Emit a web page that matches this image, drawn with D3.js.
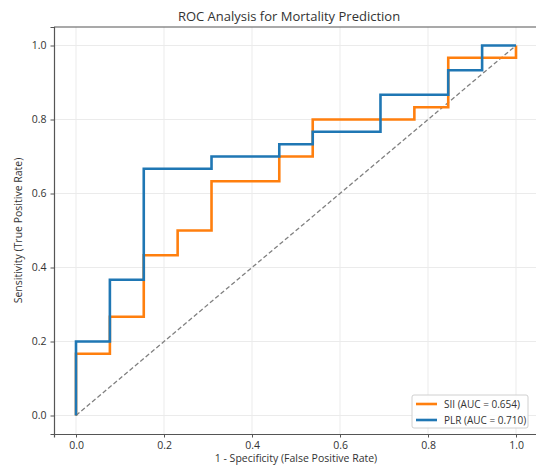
<!DOCTYPE html>
<html>
<head>
<meta charset="utf-8">
<script src="https://cdn.jsdelivr.net/npm/d3@7"></script>
<style>
  body { margin: 0; background: #fff; }
  svg text { font-family: "Open Sans", Roboto, sans-serif; fill: #333; }
</style>
</head>
<body>
<div id="chart"></div>
<script>
// ROC points
const sii_fpr = [0, 0, 0.077, 0.077, 0.154, 0.154, 0.231, 0.231, 0.308, 0.308, 0.462, 0.462, 0.538, 0.538, 0.769, 0.769, 0.846, 0.846, 1.0, 1.0];
const sii_tpr = [0, 0.167, 0.167, 0.267, 0.267, 0.433, 0.433, 0.5, 0.5, 0.633, 0.633, 0.7, 0.7, 0.8, 0.8, 0.833, 0.833, 0.967, 0.967, 1.0];
const plr_fpr = [0, 0, 0.077, 0.077, 0.154, 0.154, 0.308, 0.308, 0.462, 0.462, 0.538, 0.538, 0.692, 0.692, 0.846, 0.846, 0.923, 0.923, 1.0];
const plr_tpr = [0, 0.2, 0.2, 0.367, 0.367, 0.667, 0.667, 0.7, 0.7, 0.733, 0.733, 0.767, 0.767, 0.867, 0.867, 0.933, 0.933, 1.0, 1.0];
const seriesNames = ["SII (AUC = 0.654)", "PLR (AUC = 0.710)"];
const tickVals = [0, 0.2, 0.4, 0.6, 0.8, 1.0];

const W = 536, H = 471;
const margin = { top: 27, right: -2, bottom: 37, left: 54 };
const width = W - margin.left - margin.right;
const height = H - margin.top - margin.bottom;

const svg = d3.select("#chart").append("svg")
    .attr("width", W)
    .attr("height", H);

const g = svg.append("g")
    .attr("transform", `translate(${margin.left},${margin.top})`);

const x = d3.scaleLinear().domain([-0.05, 1.05]).range([0, width]);
const y = d3.scaleLinear().domain([-0.05, 1.05]).range([height, 0]);

// grid
g.append("g").selectAll("line").data(tickVals).join("line")
    .attr("x1", d => x(d)).attr("x2", d => x(d))
    .attr("y1", 0).attr("y2", height)
    .attr("stroke", "#ebebeb").attr("stroke-width", 1);
g.append("g").selectAll("line").data(tickVals).join("line")
    .attr("y1", d => y(d)).attr("y2", d => y(d))
    .attr("x1", 0).attr("x2", width)
    .attr("stroke", "#ebebeb").attr("stroke-width", 1);

// diagonal
g.append("line")
    .attr("x1", x(0)).attr("y1", y(0))
    .attr("x2", x(1)).attr("y2", y(1))
    .attr("stroke", "#808080")
    .attr("stroke-width", 1.3)
    .attr("stroke-dasharray", "4.5,2.5");

const line = d3.line().x(d => x(d[0])).y(d => y(d[1]));
const curves = [
    { pts: d3.zip(sii_fpr, sii_tpr), color: "#ff7f0e" },
    { pts: d3.zip(plr_fpr, plr_tpr), color: "#1f77b4" }
];
g.selectAll("path.roc").data(curves).join("path")
    .attr("class", "roc")
    .attr("d", d => line(d.pts))
    .attr("fill", "none")
    .attr("stroke", d => d.color)
    .attr("stroke-width", 2.6)
    .attr("stroke-linejoin", "miter");

// axes
const xAxis = g.append("g")
    .attr("transform", `translate(0,${height})`)
    .call(d3.axisBottom(x).tickValues(tickVals).tickFormat(d3.format(".1f")).tickSizeOuter(0).tickSize(3.5).tickPadding(4));
const yAxis = g.append("g")
    .call(d3.axisLeft(y).tickValues(tickVals).tickFormat(d3.format(".1f")).tickSizeOuter(0).tickSize(3.5).tickPadding(4));
[xAxis, yAxis].forEach(a => {
    a.select(".domain").attr("stroke", "#555").attr("stroke-width", 1.2);
    a.selectAll(".tick line").attr("stroke", "#555");
    a.selectAll(".tick text").attr("font-size", 10.5).style("fill", "#333");
});
// top / right frame
g.append("line").attr("x1", 0).attr("x2", width).attr("y1", 0).attr("y2", 0)
    .attr("stroke", "#555").attr("stroke-width", 1.2);

// labels
svg.append("text")
    .attr("x", 289).attr("y", 21)
    .attr("text-anchor", "middle")
    .attr("font-size", 13)
    .text("ROC Analysis for Mortality Prediction");
svg.append("text")
    .attr("x", 296).attr("y", 462)
    .attr("text-anchor", "middle")
    .attr("font-size", 10.5)
    .text("1 - Specificity (False Positive Rate)");
svg.append("text")
    .attr("transform", `translate(22,${margin.top + y(0.5)}) rotate(-90)`)
    .attr("text-anchor", "middle")
    .attr("font-size", 10.5)
    .text("Sensitivity (True Positive Rate)");

// legend
const leg = svg.append("g").attr("transform", "translate(412,395)");
leg.append("rect")
    .attr("width", 116).attr("height", 33).attr("rx", 2)
    .attr("fill", "#fff").attr("fill-opacity", 0.85)
    .attr("stroke", "#d0d0d0");
const items = leg.selectAll("g.item").data(seriesNames).join("g")
    .attr("class", "item")
    .attr("transform", (d, i) => `translate(0,${9 + i * 16})`);
items.append("line")
    .attr("x1", 4).attr("x2", 25)
    .attr("stroke", (d, i) => curves[i].color)
    .attr("stroke-width", 2.6);
items.append("text")
    .attr("x", 32).attr("dy", "0.35em")
    .attr("font-size", 10)
    .text(d => d);
</script>
</body>
</html>
